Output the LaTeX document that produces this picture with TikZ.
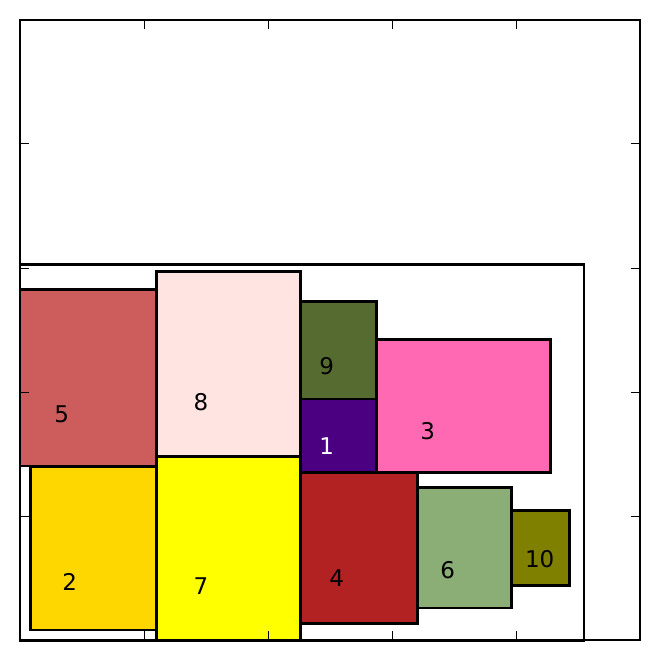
\documentclass[tikz,border=0pt]{standalone}
\usepackage{fontspec}
\setmainfont{DejaVu Sans}
\definecolor{cindianred}{HTML}{CD5C5C}
\definecolor{cgold}{HTML}{FFD700}
\definecolor{cmistyrose}{HTML}{FFE4E1}
\definecolor{cyellow}{HTML}{FFFF00}
\definecolor{colivegreen}{HTML}{556B2F}
\definecolor{cindigo}{HTML}{4B0082}
\definecolor{chotpink}{HTML}{FF69B4}
\definecolor{cfirebrick}{HTML}{B22222}
\definecolor{cseagreen}{HTML}{8AAE76}
\definecolor{colive}{HTML}{808000}
\tikzset{
  box/.style={draw=black, line width=2.6pt, inner sep=0pt, outer sep=0pt, anchor=north west},
  lbl/.style={inner sep=0pt, font=\fontsize{23}{27}\selectfont},
  tick/.style={line width=1pt},
}
\newcommand{\rbox}[6]{% name, color, x1, y1, x2, y2
  \pgfmathsetmacro{\bw}{#5-#3}\pgfmathsetmacro{\bh}{#6-#4}%
  \node[box, fill=#2, minimum width=\bw pt, minimum height=\bh pt] (#1) at (#3,#4) {};}
\begin{document}
\begin{tikzpicture}[x=1pt,y=-1pt]
\useasboundingbox (0,0) rectangle (659,660);
\fill[white] (0,0) rectangle (659,660);
% container
\node[box, minimum width=564pt, minimum height=376pt] (cont) at (20,264.3) {};
% rectangles
\rbox{r5}{cindianred}{20}{289.3}{156.7}{466}
\rbox{r2}{cgold}{30.7}{466.7}{156.7}{630}
\rbox{r8}{cmistyrose}{156.7}{271.7}{300.5}{456.7}
\rbox{r7}{cyellow}{156.7}{456.7}{300.5}{640}
\rbox{r9}{colivegreen}{300.5}{301.7}{376.5}{399}
\rbox{r1}{cindigo}{300.5}{399}{376.5}{472.3}
\rbox{r3}{chotpink}{376.5}{339.3}{550.3}{472.3}
\rbox{r4}{cfirebrick}{300.5}{472.3}{417.5}{623.3}
\rbox{r6}{cseagreen}{417.5}{487.3}{511.5}{608}
\rbox{r10}{colive}{511.5}{510.3}{569.5}{585.3}
% labels
\node[lbl] (l5) at (61.7,414) {5};
\node[lbl] (l2) at (69.7,581.7) {2};
\node[lbl] (l8) at (201,402) {8};
\node[lbl] (l7) at (201,586) {7};
\node[lbl] (l9) at (326.7,366) {9};
\node[lbl, text=white] (l1) at (326.7,445.7) {1};
\node[lbl] (l3) at (427.7,431) {3};
\node[lbl] (l4) at (336.7,578.3) {4};
\node[lbl] (l6) at (447.7,570) {6};
\node[lbl] (l10) at (539.7,559.3) {10};
% ticks
\foreach \t in {144,268,392,516}{
  \draw[tick] (\t,20) -- (\t,29);
  \draw[tick] (\t,640) -- (\t,631);
  \draw[tick] (20,\t) -- (29,\t);
  \draw[tick] (640,\t) -- (631,\t);
}
% frame
\node[box, minimum width=620pt, minimum height=620pt] (frame) at (20,20) {};
\end{tikzpicture}
\end{document}
